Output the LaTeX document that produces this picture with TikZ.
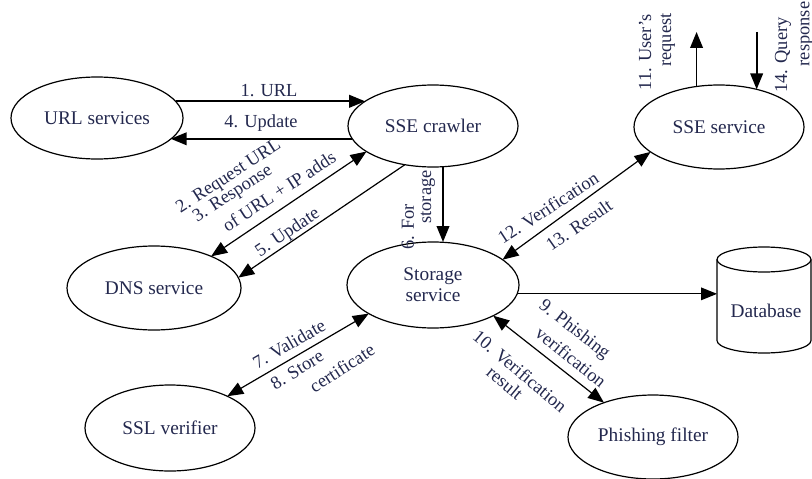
\documentclass[tikz,border=0pt]{standalone}
\usepackage{fontspec}
\setmainfont{Liberation Serif}
\usetikzlibrary{shapes.geometric,arrows.meta,calc}

\definecolor{ink}{RGB}{35,40,78}

\tikzset{
  proc/.style 2 args={ellipse, draw, line width=0.9pt, minimum width=#1*1.5pt,
    minimum height=#2*1.5pt, inner sep=0pt, outer sep=0pt, text=ink,
    font=\fontsize{14.5}{16}\selectfont, align=center},
  lbl/.style={text=ink, inner sep=0pt, font=\fontsize{13.8}{15}\selectfont},
  tip/.style={-{Triangle[length=12pt,width=9.5pt]}},
  tips/.style={{Triangle[length=12pt,width=9.5pt]}-{Triangle[length=12pt,width=9.5pt]}},
  heavy/.style={line width=1.3pt},
  thin/.style={line width=0.9pt},
}

\begin{document}
\begin{tikzpicture}[x=0.75pt,y=-0.75pt]
\useasboundingbox (0,0) rectangle (812,478);
\clip (0,0) rectangle (812,478);

% services
\node[proc={86}{41}] (url)     at (97,118)  {URL services};
\node[proc={85}{41}] (crawler) at (433,126) {SSE crawler};
\node[proc={85}{42}] (sse)     at (719,127) {SSE service};
\node[proc={87}{42}] (dns)     at (154,288) {DNS service};
\node[proc={86}{43}] (storage) at (433,285) {Storage\\service};
\node[proc={85}{43}] (ssl)     at (170,428) {SSL verifier};
\node[proc={85}{42}] (phish)   at (653,437) {Phishing filter};

% database cylinder
\node[rectangle, minimum width=70.5pt, minimum height=79.5pt, inner sep=0pt,
      outer sep=0pt] (db) at (764,300) {};
\draw[line width=0.9pt] ($(db.north)+(0,12.5)$) ellipse[x radius=35.25pt, y radius=9.375pt];
\draw[line width=0.9pt] ($(db.north west)+(0,12.5)$) -- ($(db.south west)+(0,-12.5)$)
  arc[start angle=180, end angle=360, x radius=35.25pt, y radius=9.375pt]
  -- ($(db.north east)+(0,12.5)$);
\node[lbl, font=\fontsize{14.5}{16}\selectfont] at (766,311) {Database};

% free ends of the user request / response arrows
\coordinate (top) at (0,32);

% connectors
\draw[heavy,tip] (url.12) -- (url.12 -| crawler.160);
\draw[heavy,tip] (crawler.189) -- (crawler.189 -| url.-16);
\draw[thin,tips] (crawler.201) -- (dns.29);
\draw[thin,tip] (crawler.234) -- (dns.7);
\draw[heavy,tip] ([xshift=7.5pt]crawler.south) -- ([xshift=7.5pt]storage.north);
\draw[thin,tips] (sse.200) -- (storage.20);
\draw[heavy,tip] (sse.119.7) -- (sse.119.7 |- top);
\draw[heavy,tip] (sse.45.6 |- top) -- (sse.45.6);
\draw[thin,tips] (storage.204) -- (ssl.29);
\draw[thin,tips] (storage.-27) -- (phish.145);
\draw[thin,tip] (storage.-6) -- (storage.-6 -| db.west);

% connector labels
\node[lbl] at (269,91) {1. URL};
\node[lbl] at (261,123) {4. Update};
\node[lbl, rotate=33] at (229,177) {2. Request URL};
\node[lbl, rotate=33] at (233,194) {3. Response};
\node[lbl, rotate=33] at (279,191) {of URL + IP adds};
\node[lbl, rotate=34] at (288,233) {5. Update};
\node[lbl, rotate=90] at (408,227) {6. For};
\node[lbl, rotate=90] at (428,197) {storage};
\node[lbl, rotate=33] at (548,208) {12. Verification};
\node[lbl, rotate=35] at (579,225) {13. Result};
\node[lbl, rotate=90] at (645,52) {11. User's};
\node[lbl, rotate=90] at (668,40) {request};
\node[lbl, rotate=90] at (783,55) {14. Query};
\node[lbl, rotate=90] at (807,34) {response};
\node[lbl, rotate=30] at (289,344) {7. Validate};
\node[lbl, rotate=32] at (297,370) {8. Store};
\node[lbl, rotate=33] at (342,368) {certificate};
\node[lbl, rotate=-38] at (574,330) {9. Phishing};
\node[lbl, rotate=-39] at (571,357) {verification};
\node[lbl, rotate=-40] at (520,371) {10. Verification};
\node[lbl, rotate=-40] at (505,383) {result};
\end{tikzpicture}
\end{document}
